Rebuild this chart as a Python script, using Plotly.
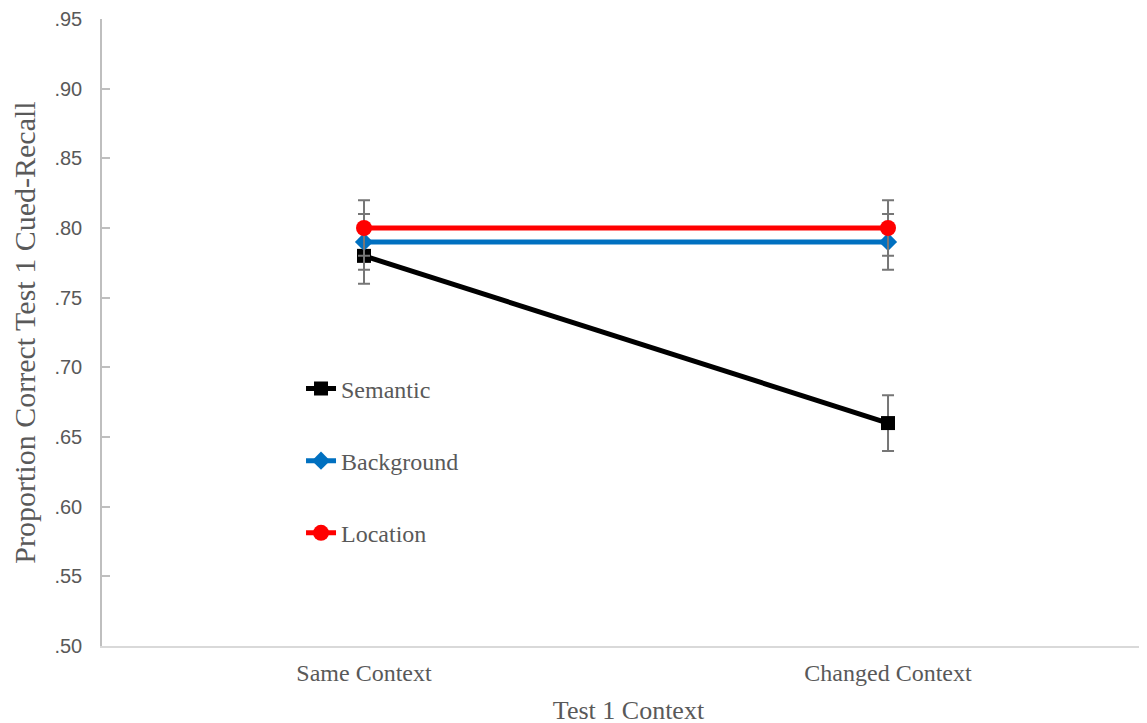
import plotly.graph_objects as go

categories = ["Same Context", "Changed Context"]
cat_pos = [0, 1]
series_names = ["Semantic", "Background", "Location"]
semantic = [0.78, 0.66]
background = [0.79, 0.79]
location = [0.80, 0.80]
err = [0.02, 0.02]
y_ticks = [0.50, 0.55, 0.60, 0.65, 0.70, 0.75, 0.80, 0.85, 0.90, 0.95]
y_tick_labels = [".50", ".55", ".60", ".65", ".70", ".75", ".80", ".85", ".90", ".95"]

styles = {
    "Semantic": dict(color="#000000", symbol="square", size=14),
    "Background": dict(color="#0070C0", symbol="diamond", size=14),
    "Location": dict(color="#FF0000", symbol="circle", size=16),
}
values = {"Semantic": semantic, "Background": background, "Location": location}

fig = go.Figure()
for i, name in enumerate(series_names):
    st = styles[name]
    fig.add_trace(go.Scatter(
        x=cat_pos, y=values[name], name=name, mode="lines+markers",
        legendgroup=name,
        line=dict(color=st["color"], width=5),
        marker=dict(color=st["color"], symbol=st["symbol"], size=st["size"]),
        error_y=dict(type="data", array=err, color="#767676", thickness=2, width=6),
    ))

fig.update_layout(
    width=1147, height=723,
    margin=dict(l=94, r=0, t=9, b=85),
    paper_bgcolor="white", plot_bgcolor="white",
    showlegend=True,
    legend=dict(
        x=0.189, y=0.446, xanchor="left", yanchor="top",
        font=dict(family="Liberation Serif", size=24, color="#595959"),
        tracegroupgap=38, bgcolor="rgba(0,0,0,0)",
        itemwidth=30,
    ),
    xaxis=dict(
        range=[-0.5, 1.5095], tickvals=cat_pos, ticktext=categories,
        showgrid=False, zeroline=False, showline=True, linecolor="#d9d9d9", linewidth=2,
        ticks="", ticklabelstandoff=4,
        tickfont=dict(family="Liberation Serif", size=24, color="#595959"),
        title=dict(text="Test 1 Context", standoff=16,
                   font=dict(family="Liberation Serif", size=26, color="#595959")),
    ),
    yaxis=dict(
        range=[0.50, 0.95], tickvals=y_ticks, ticktext=y_tick_labels,
        showgrid=False, zeroline=False, showline=True, linecolor="#bfbfbf", linewidth=1.5,
        ticks="inside", ticklen=8, tickcolor="#bfbfbf", tickwidth=1.5,
        ticklabelstandoff=14, ticklabeloverflow="allow",
        tickfont=dict(family="Liberation Sans", size=20, color="#595959"),
        title=dict(text="Proportion Correct Test 1 Cued-Recall", standoff=11,
                   font=dict(family="Liberation Serif", size=30, color="#595959")),
    ),
)

fig.write_html("out.html")
